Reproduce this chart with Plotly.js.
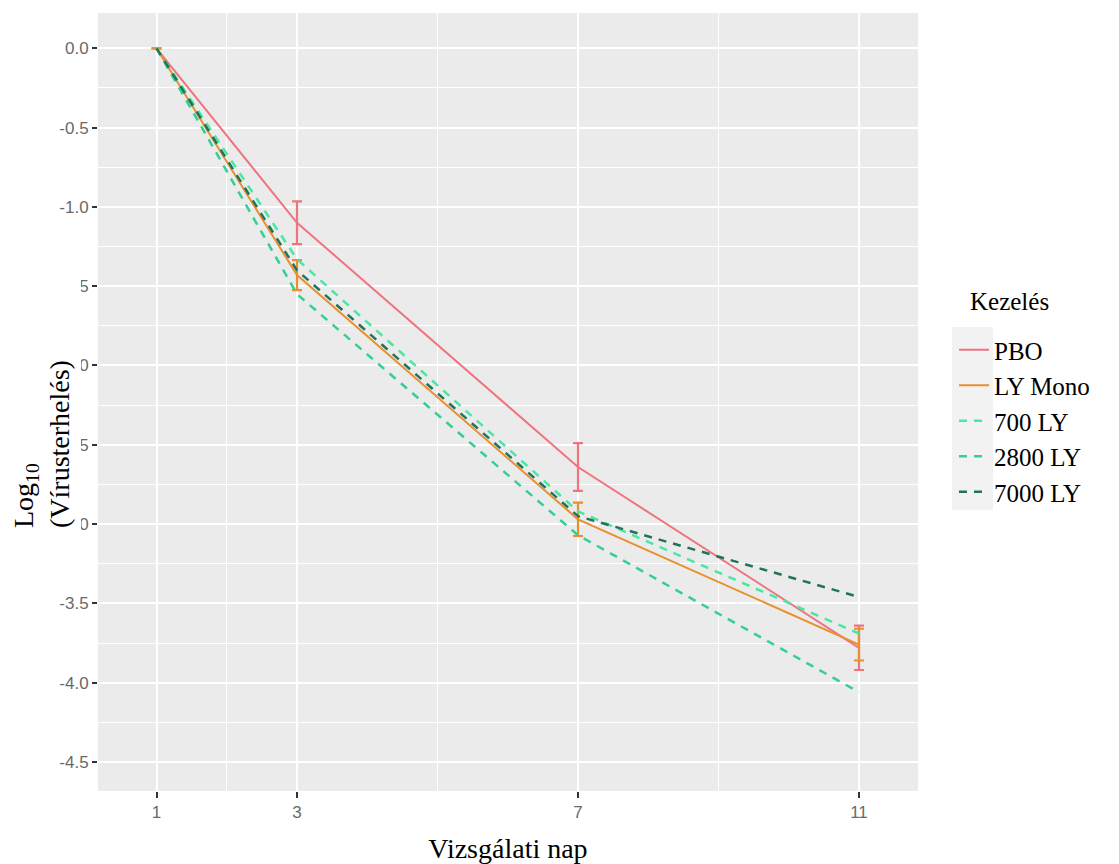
<!DOCTYPE html>
<html>
<head>
<meta charset="utf-8">
<script src="https://cdn.plot.ly/plotly-3.0.1.min.js"></script>
<style>html,body{margin:0;padding:0;background:#fff;}#chart{width:1119px;height:864px;}</style>
</head>
<body>
<div id="chart"></div>
<script>
// Data
const days = [1, 3, 7, 11];
const xTickVals = [1, 3, 7, 11];
const yTickVals = [0, -0.5, -1, -1.5, -2, -2.5, -3, -3.5, -4, -4.5];
const yTickText = ["0.0", "-0.5", "-1.0", "-1.5", "-2.0", "-2.5", "-3.0", "-3.5", "-4.0", "-4.5"];
const seriesNames = ["PBO", "LY Mono", "700 LY", "2800 LY", "7000 LY"];
const pbo = [0, -1.10, -2.64, -3.78];
const pboErr = [0, 0.135, 0.15, 0.14];
const lyMono = [0, -1.43, -2.97, -3.76];
const lyMonoErr = [0, 0.095, 0.105, 0.10];
const ly700 = [0, -1.33, -2.92, -3.69];
const ly2800 = [0, -1.55, -3.07, -4.06];
const ly7000 = [0, -1.40, -2.95, -3.46];

const colors = ["#ee7480", "#e8902e", "#48e8a2", "#34cf92", "#22735a"];
const serif = "Liberation Serif, Times New Roman, serif";
const sans = "Liberation Sans, Arial, sans-serif";

const traces = [
  {x: days, y: pbo, name: seriesNames[0], mode: "lines", line: {color: colors[0], width: 2},
   error_y: {type: "data", array: pboErr, visible: true, color: colors[0], thickness: 2.2, width: 5}},
  {x: days, y: lyMono, name: seriesNames[1], mode: "lines", line: {color: colors[1], width: 2},
   error_y: {type: "data", array: lyMonoErr, visible: true, color: colors[1], thickness: 2.2, width: 5}},
  {x: days, y: ly700, name: seriesNames[2], mode: "lines", line: {color: colors[2], width: 2.5, dash: "8px,7px"}},
  {x: days, y: ly2800, name: seriesNames[3], mode: "lines", line: {color: colors[3], width: 2.5, dash: "8px,7px"}},
  {x: days, y: ly7000, name: seriesNames[4], mode: "lines", line: {color: colors[4], width: 2.5, dash: "8px,7px"}}
];

const L = 98, R = 918, T = 13, B = 791, W = 1119, H = 864;
const px = p => (p - L) / (R - L);
const py = q => (B - q) / (B - T);

const layout = {
  width: W, height: H,
  margin: {l: L, r: W - R, t: T, b: H - B, pad: 0},
  paper_bgcolor: "#ffffff",
  plot_bgcolor: "#ebebeb",
  showlegend: true,
  xaxis: {
    range: [0.167, 11.84],
    tickmode: "array", tickvals: xTickVals, ticktext: xTickVals.map(String),
    showgrid: true, gridcolor: "#ffffff", gridwidth: 2,
    minor: {tickmode: "array", tickvals: [2, 5, 9], showgrid: true, gridcolor: "#ffffff", gridwidth: 1, ticks: ""},
    zeroline: false, showline: false,
    ticks: "outside", ticklen: 6, tickwidth: 2, tickcolor: "#333333",
    tickfont: {family: sans, size: 17, color: "#6a6a6a"},
    title: {text: "Vizsgálati nap", font: {family: serif, size: 28, color: "#000000"}, standoff: 17}
  },
  yaxis: {
    range: [-4.683, 0.2226],
    tickmode: "array", tickvals: yTickVals, ticktext: yTickText,
    showgrid: true, gridcolor: "#ffffff", gridwidth: 2,
    minor: {tickmode: "array", tickvals: [-0.25, -0.75, -1.25, -1.75, -2.25, -2.75, -3.25, -3.75, -4.25], showgrid: true, gridcolor: "#ffffff", gridwidth: 1, ticks: ""},
    zeroline: false, showline: false,
    ticks: "outside", ticklen: 5, tickwidth: 2, tickcolor: "#333333",
    tickfont: {family: sans, size: 17, color: "#6a6a6a"}
  },
  legend: {
    x: px(954), xanchor: "left", y: py(327), yanchor: "top",
    bgcolor: "rgba(0,0,0,0)", borderwidth: 0,
    font: {family: serif, size: 25, color: "#000000"},
    itemwidth: 30, tracegroupgap: 0
  },
  shapes: [
    {type: "rect", xref: "paper", yref: "paper", x0: px(952), x1: px(993), y0: py(510), y1: py(327),
     fillcolor: "#f2f2f2", line: {width: 0}, layer: "below"},
    {type: "rect", xref: "paper", yref: "paper", x0: px(0), x1: px(81), y0: py(545), y1: py(276),
     fillcolor: "#ffffff", line: {width: 0}, layer: "above"}
  ],
  annotations: [
    {text: "Log<sub>10</sub><br>(Vírusterhelés)", xref: "paper", yref: "paper",
     x: px(41), y: py(530), xanchor: "center", yanchor: "bottom", textangle: -90, align: "left",
     showarrow: false, font: {family: serif, size: 28, color: "#000000"}},
    {text: "Kezelés", xref: "paper", yref: "paper", x: px(968), y: py(302), xanchor: "left", yanchor: "middle",
     showarrow: false, font: {family: serif, size: 25, color: "#000000"}}
  ]
};

Plotly.newPlot("chart", traces, layout, {displayModeBar: false, staticPlot: true});
</script>
</body>
</html>
